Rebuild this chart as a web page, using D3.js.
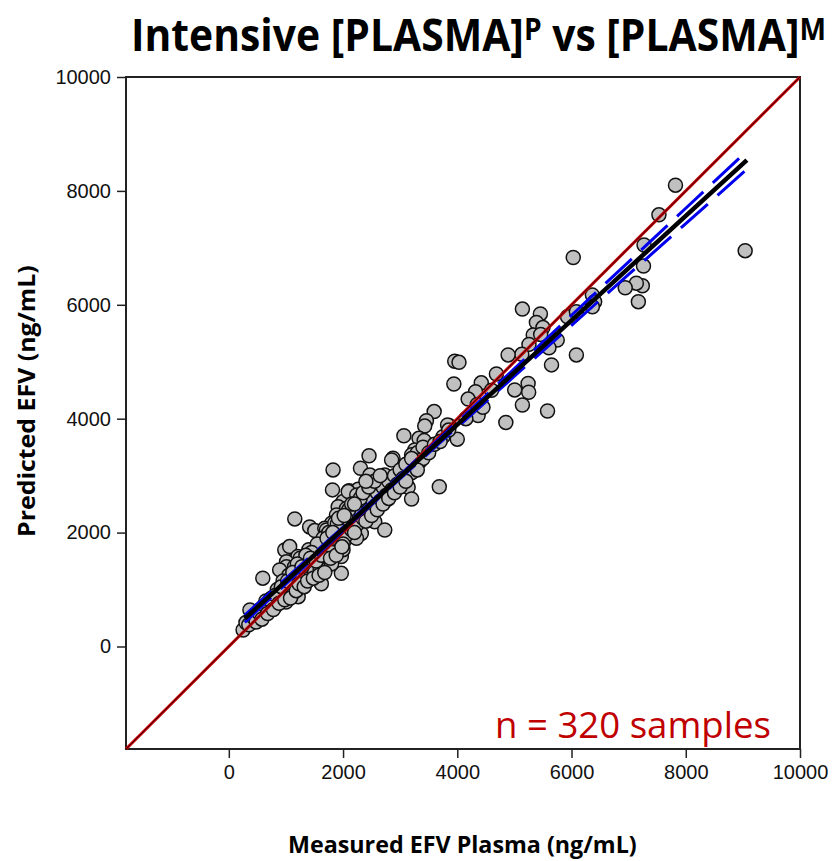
<!DOCTYPE html>
<html>
<head>
<meta charset="utf-8">
<script src="https://cdn.jsdelivr.net/npm/d3@7"></script>
<style>
  body { margin: 0; background: #fff; }
  svg { display: block; }
</style>
</head>
<body>
<svg width="834" height="861"></svg>
<script>
// measured vs predicted EFV plasma concentrations (ng/mL)
var measuredEFV = [
  9040, 7820, 7530, 7270, 6030, 7260, 7240, 7135, 6940, 7170,
  5140, 5455, 5385, 5500, 5330, 5460, 5255, 5130, 5750, 5605, 5930, 6085, 6365, 6405, 6365, 6085, 5650, 5580,
  3955, 4030, 3940, 4420, 4320, 4190, 4685, 4890, 5240, 5005, 5250, 5140, 4850, 4365, 3860, 3595, 3460, 3430,
  3065, 3330, 3420, 3750, 4000, 3255, 3200, 2875, 2850, 3140, 3340, 2730, 3110,
  3830, 3275, 3255, 2455, 2305, 1825, 2470, 2640, 2410, 2585, 1815, 2105, 2265, 3140, 3200, 3685, 2780, 2290,
  2000, 1915, 2060, 2410, 2620, 2525, 2265, 1885, 1800, 2175, 2410, 2555, 2730, 1415, 1505, 1680, 1940, 2115, 2320,
  1155, 2090, 2240, 1710, 1855, 2150, 2060, 2235, 1825, 1625, 1505, 980, 1065, 1210, 1010, 1360, 1590, 1765, 1970,
  1970, 1650, 1450, 1185, 980, 595,
  1620, 250, 400, 370, 545, 660, 750, 865, 810, 1010, 1100, 1245, 1215, 950, 1275, 1480, 1420, 1010, 890,
  1200, 1250, 1300, 1350, 1280, 1150, 1100, 1050, 1000, 950, 900, 850, 800, 750, 700, 650, 600, 550, 500, 450,
  700, 850, 900, 1000, 1100, 1150, 1200, 1250, 1300, 1350, 1400, 1450, 1500, 1550, 1600, 1650, 1700, 1750, 1800, 1850,
  1900, 1950, 2000, 2050, 2100, 2150, 2200, 2250, 2300, 2350, 2400, 2450, 2500, 2550, 2600, 2650, 2700, 2750, 2800, 2850,
  2900, 2950, 3000, 3050, 3100, 3200, 3300, 3400, 1500, 1600, 1700, 1800, 1900, 2000, 2100, 2200, 2300, 2400, 1400, 1300,
  1650, 1750, 2050, 2150, 2350, 2450, 2550, 2650, 1550, 1450, 1250, 1350, 1150, 1050, 950, 850, 750, 650, 600, 550,
  1000, 1100, 1200, 1600, 1800, 2000, 2200, 2400, 2500, 2600, 2700, 2800, 2900, 3000, 3100, 3200, 3300, 3400, 3500, 3600,
  300, 350, 420, 480, 520, 580, 630, 680, 720, 780, 820, 880, 920, 980, 1030, 1080, 1120, 1180, 1230, 1280,
  1320, 1380, 1430, 1480, 1530, 1580, 1620, 1680, 1720, 1780, 1820, 1880, 1920, 1980, 2020,
  3700, 3850, 4150, 4350, 4450, 4600
];
var predictedEFV = [
  6950, 8100, 7580, 7050, 6830, 6680, 6335, 6380, 6300, 6055,
  5925, 5840, 5690, 5600, 5470, 5480, 5305, 5130, 5380, 5245, 5790, 5880, 6170, 6055, 5965, 5120, 4945, 4135,
  5010, 4990, 4610, 4630, 4475, 4345, 4785, 5120, 4620, 4505, 4465, 4240, 3935, 4055, 3875, 4125, 3965, 3870,
  3700, 3655, 3615, 3685, 3640, 3450, 3365, 3305, 3275, 3160, 3245, 3010, 3100,
  3890, 3320, 3185, 3350, 3130, 3100, 3010, 2865, 2835, 2780, 2750, 2735, 2760, 2795, 2590, 2805, 2585, 2575,
  2545, 2455, 2425, 2485, 2560, 2395, 2365, 2310, 2165, 2250, 2280, 2190, 2045, 2100, 2035, 2075, 2015, 2045, 1985,
  2240, 2720, 2660, 2045, 2165, 2165, 1900, 1900, 1840, 1785, 1695, 1695, 1755, 1580, 1490, 1490, 1580, 1605, 1580,
  1285, 1400, 1345, 1315, 1315, 1200,
  1100, 290, 465, 640, 640, 640, 760, 815, 700, 905, 960, 1050, 875, 1080, 1225, 1290, 1430, 1400, 1345,
  1180, 1320, 1200, 1380, 1100, 1050, 1150, 1000, 1100, 950, 880, 950, 800, 700, 750, 650, 700, 560, 520, 480,
  620, 780, 1020, 880, 1220, 1300, 1000, 1450, 1550, 1250, 1500, 1400, 1600, 1450, 1700, 1550, 1800, 1700, 1900, 1750,
  1950, 1850, 2100, 1950, 2200, 2050, 2300, 2150, 2400, 2250, 2550, 2400, 2600, 2450, 2700, 2550, 2800, 2650, 2900, 2750,
  3000, 2850, 3100, 2950, 3200, 3050, 3400, 3300, 1300, 1450, 1600, 1650, 2150, 1800, 2400, 2000, 2600, 2200, 1700, 1450,
  1900, 2000, 2250, 2500, 2700, 2800, 2900, 3000, 1800, 1650, 1550, 1600, 1400, 1250, 1150, 1000, 850, 800, 550, 650,
  780, 900, 1450, 1350, 1450, 1700, 2500, 2900, 2300, 2400, 2500, 2600, 2700, 2800, 2900, 3300, 3100, 3500, 3400, 3550,
  420, 380, 520, 430, 600, 480, 720, 580, 820, 650, 900, 760, 1050, 820, 1150, 850, 1300, 980, 1100, 1400,
  1050, 1150, 1550, 1200, 1500, 1250, 1600, 1300, 1900, 1550, 2000, 1600, 2250, 1750, 2300,
  3600, 3800, 4000, 4250, 4200, 4500
];

// linear regression line and its 95% confidence band
var fitX     = [280, 1000, 2000, 3000, 4000, 5000, 6000, 7000, 8000, 9070];
var fitY     = [488, 1148, 2064, 2980, 3896, 4812, 5728, 6644, 7560, 8540];
var ciUpper  = [552, 1197, 2097, 3012, 3941, 4878, 5816, 6755, 7695, 8700];
var ciLower  = [424, 1099, 2031, 2948, 3851, 4746, 5640, 6533, 7425, 8380];

var identityLine = [-1800, 10000];
var xTicks = [0, 2000, 4000, 6000, 8000, 10000];
var yTicks = [0, 2000, 4000, 6000, 8000, 10000];

var svg = d3.select("svg"),
    width = +svg.attr("width"),
    height = +svg.attr("height");

var margin = {top: 77, right: 34, bottom: 112, left: 126};

var x = d3.scaleLinear().domain([-1800, 10000]).range([margin.left, width - margin.right]);
var y = d3.scaleLinear().domain([-1800, 10000]).range([height - margin.bottom, margin.top]);

// axes
var xAxis = svg.append("g")
    .attr("transform", "translate(0," + (height - margin.bottom) + ")")
    .call(d3.axisBottom(x).tickValues(xTicks).tickSize(9).tickSizeOuter(0).tickPadding(7).tickFormat(d3.format("d")));
var yAxis = svg.append("g")
    .attr("transform", "translate(" + margin.left + ",0)")
    .call(d3.axisLeft(y).tickValues(yTicks).tickSize(9).tickSizeOuter(0).tickPadding(6).tickFormat(d3.format("d")));

svg.selectAll(".tick text")
    .style("font-family", "'Liberation Sans', Arial, sans-serif")
    .style("font-size", "20px")
    .attr("fill", "#111");
svg.selectAll(".tick line").attr("stroke", "#222").attr("stroke-width", 1.5);
svg.selectAll(".domain").remove();

// frame
svg.append("rect")
    .attr("x", x(-1800))
    .attr("y", y(10000))
    .attr("width", x(10000) - x(-1800))
    .attr("height", y(-1800) - y(10000))
    .attr("fill", "none")
    .attr("stroke", "#222")
    .attr("stroke-width", 2);

var line = d3.line()
    .x(function (d) { return x(d[0]); })
    .y(function (d) { return y(d[1]); });

// points
var pts = measuredEFV.map(function (d, i) { return [d, predictedEFV[i]]; });
svg.append("g").selectAll("circle")
    .data(pts)
    .enter().append("circle")
    .attr("cx", function (d) { return x(d[0]); })
    .attr("cy", function (d) { return y(d[1]); })
    .attr("r", 7)
    .attr("fill", "#c0c0c0")
    .attr("stroke", "#111")
    .attr("stroke-width", 1.5);

// line of identity
var idPts = identityLine.map(function (d) { return [d, d]; });
svg.append("path").datum(idPts).attr("d", line)
    .attr("stroke", "#c00000").attr("stroke-width", 3).attr("fill", "none");
svg.append("path").datum(idPts).attr("d", line)
    .attr("stroke", "#200000").attr("stroke-width", 0.8).attr("fill", "none");

// confidence band
[ciUpper, ciLower].forEach(function (band) {
    svg.append("path")
        .datum(fitX.map(function (d, i) { return [d, band[i]]; }))
        .attr("d", line)
        .attr("fill", "none")
        .attr("stroke", "#0000ee")
        .attr("stroke-width", 3)
        .attr("stroke-dasharray", "36,13");
});

// regression line
svg.append("path")
    .datum(fitX.map(function (d, i) { return [d, fitY[i]]; }))
    .attr("d", line)
    .attr("fill", "none")
    .attr("stroke", "#000")
    .attr("stroke-width", 4.5);

// squeeze a text horizontally so it fits a given width
function fitWidth(sel, x0, base, w) {
    var bw = sel.node().getComputedTextLength();
    sel.attr("transform", "translate(" + x0 + "," + base + ") scale(" + (w / bw) + ",1)");
}

// title
var title = svg.append("text")
    .attr("x", 0).attr("y", 0)
    .style("font-family", "'Open Sans', 'Noto Sans', sans-serif")
    .style("font-weight", "bold")
    .style("font-size", "45px")
    .attr("fill", "#000");
title.append("tspan").text("Intensive [PLASMA]");
title.append("tspan").attr("dy", -11).style("font-size", "31px").text("P");
title.append("tspan").attr("dy", 11).text(" vs [PLASMA]");
title.append("tspan").attr("dy", -11).style("font-size", "31px").text("M");
fitWidth(title, 131, 51, 695);

// axis titles
var xt = svg.append("text")
    .style("font-family", "'Open Sans', 'Noto Sans', sans-serif")
    .style("font-weight", "bold")
    .style("font-size", "24px")
    .text("Measured EFV Plasma (ng/mL)");
fitWidth(xt, 288, 853, 349);

var yt = svg.append("text")
    .style("font-family", "'Open Sans', 'Noto Sans', sans-serif")
    .style("font-weight", "bold")
    .style("font-size", "24px")
    .text("Predicted EFV  (ng/mL)");
var ytw = yt.node().getComputedTextLength();
yt.attr("transform", "translate(35,537) rotate(-90) scale(" + (272 / ytw) + ",1)");

// sample count
var nt = svg.append("text")
    .style("font-family", "'Open Sans', 'Noto Sans', sans-serif")
    .style("font-size", "37px")
    .attr("fill", "#c00000")
    .text("n = 320 samples");
fitWidth(nt, 495, 738, 276);
</script>
</body>
</html>
